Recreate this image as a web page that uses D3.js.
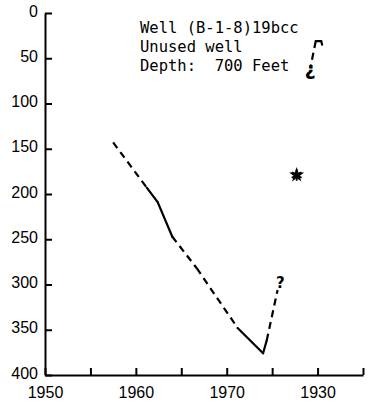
<!DOCTYPE html>
<html>
<head>
<meta charset="utf-8">
<script src="https://cdn.jsdelivr.net/npm/d3@7"></script>
<style>
  html, body { margin: 0; padding: 0; background: #fff; }
  svg { display: block; }
  .axis path, .axis line { stroke: #000; stroke-width: 2; }
  .axis text { font-family: "Liberation Sans", Arial, sans-serif; font-size: 16px; fill: #000; }
  .note { font-family: "DejaVu Sans Mono", monospace; font-size: 15.5px; fill: #000; }
</style>
</head>
<body>
<div id="chart"></div>
<script>
// water level record, depth below land surface (feet)
const years  = [1957.5, 1961.2, 1962.4, 1964.0, 1966.7, 1971.2, 1974.0, 1974.4, 1975.6];
const depths = [143, 193, 209, 247, 282, 348, 376, 362, 306];
// style of each segment between consecutive points
const segStyle = ['dashed', 'solid', 'solid', 'dashed', 'dashed', 'solid', 'solid', 'dashed'];

// later record, top right
const lateYears  = [1980.5, 1980.4, 1979.8, 1979.2];
const lateDepths = [35, 31, 31, 61];
const lateStyle  = ['solid', 'solid', 'dashed'];

// single measurement
const starPoint = { year: 1977.7, depth: 179 };

// question marks at uncertain ends
const queries = [
  { year: 1975.9, depth: 298, rotate: 0, size: 15 },
  { year: 1979.2, depth: 65, rotate: 180, size: 19 }
];

const yTicks = [0, 50, 100, 150, 200, 250, 300, 350, 400];
const xTicks = [1950, 1955, 1960, 1965, 1970, 1975, 1980, 1985];
const xLabelYears = [1950, 1960, 1970, 1980];
const xLabels = ['1950', '1960', '1970', '1930'];

const noteLines = ['Well (B-1-8)19bcc', 'Unused well', 'Depth:  700 Feet'];

const width = 368, height = 407;

const svg = d3.select('#chart')
  .append('svg')
  .attr('width', width)
  .attr('height', height);

const x = d3.scaleLinear().domain([1950, 1985]).range([45, 363]);
const y = d3.scaleLinear().domain([0, 400]).range([13, 375]);

// y axis, ticks pointing inward
svg.append('g')
  .attr('class', 'axis')
  .attr('transform', `translate(${x(1950)},0)`)
  .call(d3.axisLeft(y).tickValues(yTicks).tickSize(-7).tickSizeOuter(0).tickPadding(7))
  .selectAll('text')
  .attr('dy', '0.2em');

// x axis, ticks pointing up
svg.append('g')
  .attr('class', 'axis')
  .attr('transform', `translate(0,${y(400)})`)
  .call(d3.axisBottom(x).tickValues(xTicks).tickSize(-7).tickSizeOuter(0).tickPadding(12)
    .tickFormat(d => {
      const i = xLabelYears.indexOf(d);
      return i >= 0 ? xLabels[i] : '';
    }));

// draw a polyline segment by segment
function drawSeries(xs, ys, styles) {
  const line = d3.line().x(d => x(d[0])).y(d => y(d[1]));
  styles.forEach((s, i) => {
    svg.append('path')
      .attr('d', line([[xs[i], ys[i]], [xs[i + 1], ys[i + 1]]]))
      .attr('fill', 'none')
      .attr('stroke', '#000')
      .attr('stroke-width', 2.2)
      .attr('stroke-linecap', s === 'solid' ? 'round' : 'butt')
      .attr('stroke-dasharray', s === 'dashed' ? '7,5' : null);
  });
}

drawSeries(years, depths, segStyle);
drawSeries(lateYears, lateDepths, lateStyle);

// star marker
svg.append('path')
  .attr('transform', `translate(${x(starPoint.year)},${y(starPoint.depth)})`)
  .attr('d', d3.symbol(d3.symbolStar, 70)())
  .attr('fill', '#000');
svg.append('path')
  .attr('transform', `translate(${x(starPoint.year)},${y(starPoint.depth)})`)
  .attr('d', d3.symbol(d3.symbolAsterisk, 90)())
  .attr('fill', 'none')
  .attr('stroke', '#000')
  .attr('stroke-width', 1.8);

svg.selectAll('.query')
  .data(queries)
  .join('text')
  .attr('class', 'query')
  .attr('transform', d => `translate(${x(d.year)},${y(d.depth)}) rotate(${d.rotate})`)
  .attr('text-anchor', 'middle')
  .attr('dy', '0.35em')
  .attr('font-family', 'DejaVu Sans, sans-serif')
  .attr('font-weight', 'bold')
  .attr('font-size', d => d.size)
  .text('?');

// well description
svg.append('g')
  .selectAll('text')
  .data(noteLines)
  .join('text')
  .attr('class', 'note')
  .attr('x', 140)
  .attr('y', (d, i) => 33 + i * 19)
  .attr('xml:space', 'preserve')
  .style('white-space', 'pre')
  .text(d => d);
</script>
</body>
</html>
